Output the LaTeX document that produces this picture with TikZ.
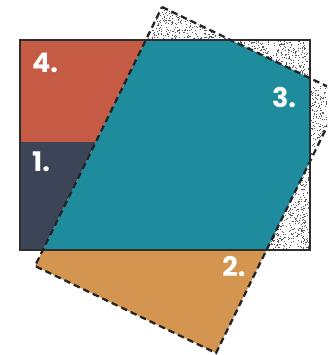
\documentclass[tikz,border=0pt]{standalone}
\usepackage{fontspec}
\setmainfont{Poppins}
\usepackage{tikz}
\usetikzlibrary{calc}
\definecolor{ovred}  {HTML}{C65B45}
\definecolor{ovslate}{HTML}{3B4557}
\definecolor{ovteal} {HTML}{1F8C9D}
\definecolor{ovsand} {HTML}{D39550}
\definecolor{ovink}  {HTML}{2E2E30}
\tikzset{
  ovframe/.style={draw=ovink, line width=2pt, line join=miter},
  ovdash/.style={draw=ovink!80!black, line width=2.3pt, dash pattern=on 6.5pt off 4pt},
  ovnum/.style={text=white, font=\fontsize{27}{27}\selectfont\bfseries, inner sep=0pt},
  ovspeck/.style={fill=ovink!80},
}

\begin{document}
\begin{tikzpicture}[x=1pt, y=-1pt]
  \useasboundingbox (0,0) rectangle (327,355);
  \clip (0,0) rectangle (327,355);
  % the plain frame and the tilted sheet
  \coordinate (fa) at (20,40);   \coordinate (fb) at (310,40);
  \coordinate (fc) at (310,250); \coordinate (fd) at (20,250);
  \coordinate (T) at (162,7);    \coordinate (R) at (343,94);
  \coordinate (B) at (216,353);  \coordinate (L) at (35,266);
  % speckle on the union of both
  \begin{scope}
    \clip (fa) -- (fb) -- (fc) -- (fd) -- cycle (T) -- (R) -- (B) -- (L) -- cycle;
    \pgfmathsetseed{4242}
    \foreach \i in {1,...,3000}
      { \fill[ovspeck] ({140+187*rnd},{4+97*rnd}) rectangle ++(0.9,0.9); }
    \foreach \i in {1,...,1700}
      { \fill[ovspeck] ({258+69*rnd},{100+153*rnd}) rectangle ++(0.9,0.9); }
  \end{scope}
  % left part of the frame: 4. and 1.
  \begin{scope}
    \clip (T) -- (L) -- (0,266) -- (0,7) -- cycle;
    \fill[ovred]   (fa) rectangle (310,142);
    \fill[ovslate] (20,142) rectangle (fc);
  \end{scope}
  % overlap
  \begin{scope}
    \clip (fa) rectangle (fc);
    \fill[ovteal] (T) -- (R) -- (B) -- (L) -- cycle;
  \end{scope}
  % below the frame
  \begin{scope}
    \clip (T) -- (R) -- (B) -- (L) -- cycle;
    \fill[ovsand] (0,250) rectangle (327,355);
  \end{scope}
  \draw[ovframe] (fa) -- (fb) -- (fc) -- (fd) -- cycle;
  \draw[ovdash] (T) -- (R) -- (B) -- (L) -- cycle;
  \node[ovnum] (n4) at (45,63)  {4.};
  \node[ovnum] (n1) at (41,162) {1.};
  \node[ovnum] (n3) at (284,98) {3.};
  \node[ovnum] (n2) at (234,267) {2.};
\end{tikzpicture}
\end{document}
